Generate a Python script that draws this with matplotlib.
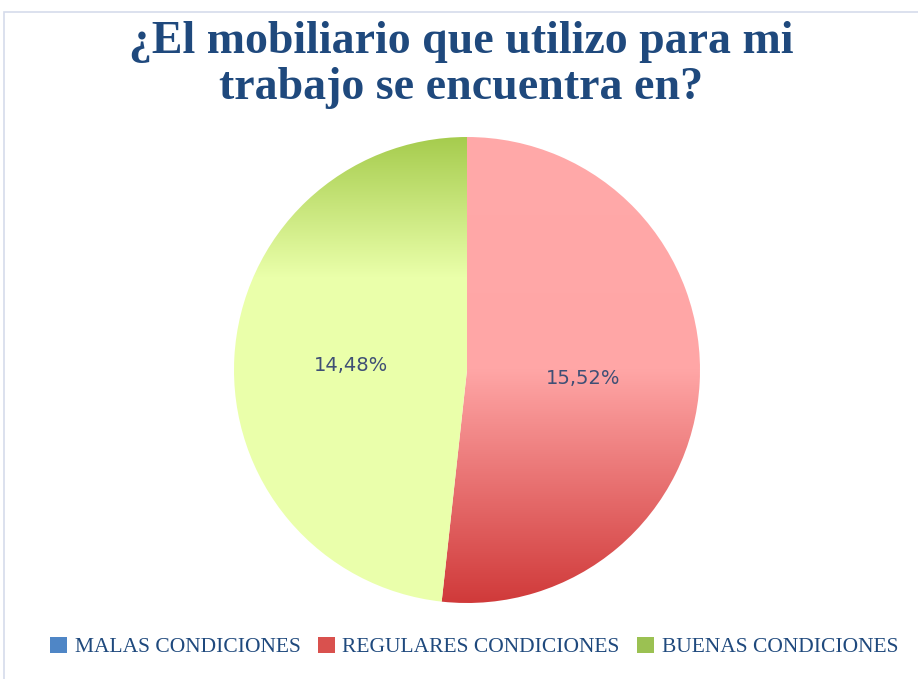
import numpy as np
import matplotlib
matplotlib.use('Agg')
import matplotlib.pyplot as plt
from matplotlib.patches import Rectangle, Patch

# datos
categorias = ['MALAS CONDICIONES', 'REGULARES CONDICIONES', 'BUENAS CONDICIONES']
valores = [0.0, 15.52, 14.48]
etiquetas = ['', '15,52%', '14,48%']
colores_leyenda = ['#4F86C6', '#D9514E', '#9BC152']

titulo = '¿El mobiliario que utilizo para mi\ntrabajo se encuentra en?'
azul = '#1F497D'

W, H = 918, 679
fig = plt.figure(figsize=(W / 100, H / 100), dpi=100)

# marco del grafico
fig.patches.append(Rectangle((4 / W, -0.05), 1.2, 1 - 12 / H + 0.05,
                             transform=fig.transFigure, fill=False,
                             edgecolor='#D5DCEB', linewidth=1.2))

cx, cy, r = 467, H - 370, 233
ax = fig.add_axes([(cx - r) / W, (cy - r) / H, 2 * r / W, 2 * r / H])
wedges, _ = ax.pie(valores, startangle=90, counterclock=False,
                   wedgeprops=dict(linewidth=0))
ax.set_xlim(-1, 1)
ax.set_ylim(-1, 1)
ax.set_aspect('equal')


def degradado(stops, n=400):
    ys = np.linspace(1, -1, n)
    pos = [s[0] for s in stops][::-1]
    cols = np.array([s[1] for s in stops][::-1], dtype=float) / 255
    img = np.zeros((n, 2, 3))
    for k in range(3):
        img[:, :, k] = np.interp(ys, pos, cols[:, k])[:, None]
    return img


grad_rojo = degradado([(1, (255, 169, 169)), (0.0, (255, 166, 166)),
                       (-1, (208, 58, 58))])
grad_verde = degradado([(1, (166, 204, 78)), (0.4, (234, 255, 170)),
                        (-1, (235, 255, 172))])

for w, g in [(wedges[1], grad_rojo), (wedges[2], grad_verde)]:
    w.set_facecolor('none')
    im = ax.imshow(g, extent=(-1, 1, -1, 1), aspect='auto', zorder=0.5,
                   interpolation='bilinear')
    im.set_clip_path(w)
ax.set_xlim(-1, 1)
ax.set_ylim(-1, 1)

# etiquetas de porcentaje
for w, t in zip(wedges, etiquetas):
    if not t:
        continue
    ang = np.deg2rad((w.theta1 + w.theta2) / 2)
    ax.text(0.5 * np.cos(ang), 0.5 * np.sin(ang) - 0.01, t, ha='center',
            va='center', fontsize=14, color='#3F4F75', family='DejaVu Sans')

fig.text(461 / W, 1 - 65 / H, titulo, ha='center', va='center', fontsize=33,
         fontweight='bold', color=azul, family='Liberation Serif',
         linespacing=1.15)

handles = [Patch(facecolor=c, edgecolor='none') for c in colores_leyenda]
fig.legend(handles, categorias, loc='center', bbox_to_anchor=(474 / W, 1 - 647 / H),
           ncol=3, frameon=False, handlelength=0.8, handleheight=0.8,
           handletextpad=0.35, columnspacing=0.8,
           prop=dict(family='Liberation Serif', size=15.5),
           labelcolor=azul)

fig.savefig('out.png', dpi=100)
